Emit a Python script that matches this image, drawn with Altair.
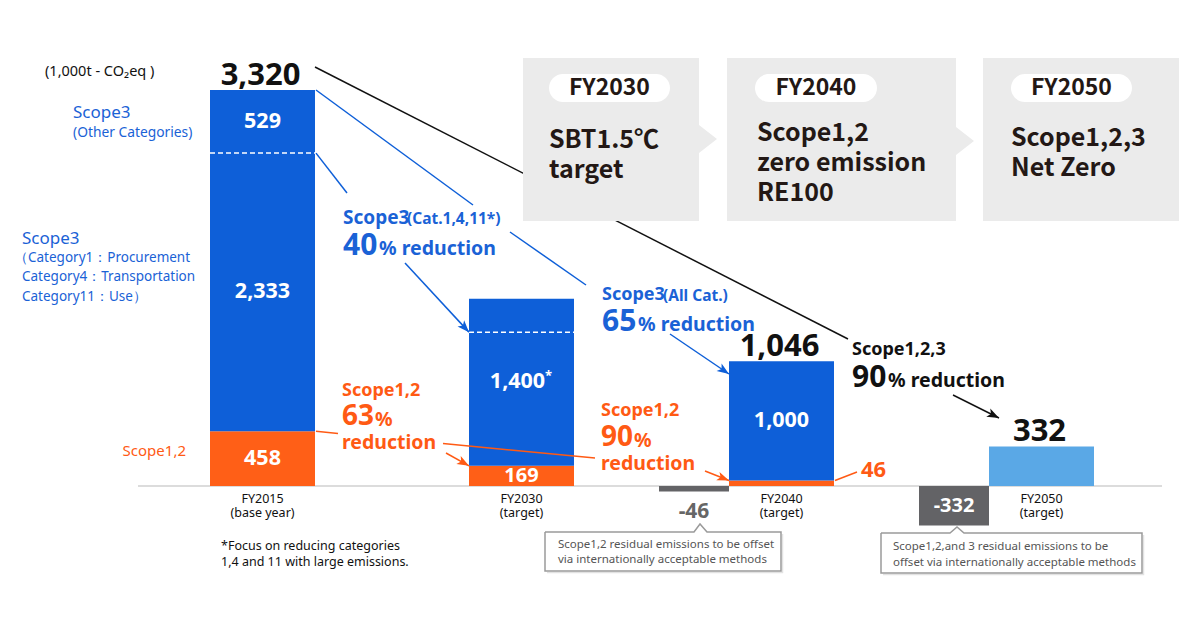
import math
import altair as alt
import pandas as pd

# ---------------- data (1,000t-CO2eq) ----------------
years = ["FY2015", "FY2030", "FY2040", "FY2050"]
year_notes = ["(base year)", "(target)", "(target)", "(target)"]
scope12 = [458, 169, 46, 0]
scope3_main = [2333, 1400, 1000, 0]      # Cat.1,4,11 (FY2040: all categories)
scope3_other = [529, 0, 0, 0]
net_emissions = [0, 0, 0, 332]
totals = [3320, None, 1046, 332]
offsets = [0, 0, -46, -332]
dividers = [2791, 1290, None, None]       # dashed separators inside the blue bars

# ---------------- layout (page pixels) ----------------
W, H = 1184, 614
BASE_PY = 486
TOP_PY = 90
K = (BASE_PY - TOP_PY) / totals[0]        # pixels per unit
centers = [262.5, 521.5, 781.5, 1041.5]
BW = 105
OW = 70

BLUE = "#0e5fd8"
ORANGE = "#ff5f17"
LIGHT = "#5aa8e6"
DARK = "#636366"
BLUE_T = "#1a62d6"
ORANGE_T = "#ff5a14"
BLACK = "#111111"
BOXTXT = "#231815"
GRAY_T = "#555555"
FONT = "Noto Sans"
JFONT = "Noto Sans CJK JP"


def yv(py):
    return (BASE_PY - py) / K


def py_of(v):
    return BASE_PY - v * K


xs = alt.Scale(domain=[8, 8 + W], nice=False, zero=False)
ys = alt.Scale(domain=[yv(8 + H), yv(8)], nice=False, zero=False)


def X(f):
    return alt.X(f, type="quantitative", scale=xs, axis=None)


def Y(f):
    return alt.Y(f, type="quantitative", scale=ys, axis=None)


layers = []

# baseline
base_df = pd.DataFrame([dict(x=138, x2=1162, y=0)])
layers.append(alt.Chart(base_df).mark_rule(color="#dcdcdc", strokeWidth=2).encode(
    x=X("x"), x2="x2:Q", y=Y("y")))

# bars
bar_rows, seg_labels = [], []
for i, yr in enumerate(years):
    c = centers[i]
    x0, x1 = c - BW / 2, c + BW / 2
    stack = 0
    for val, col in [(scope12[i], ORANGE), (scope3_main[i], BLUE),
                     (scope3_other[i], BLUE), (net_emissions[i], LIGHT)]:
        if val:
            bar_rows.append(dict(x=x0, x2=x1, y=stack, y2=stack + val, color=col))
            if val * K > 18 and col != LIGHT:
                seg_labels.append(dict(x=c, y=stack + val / 2, text=f"{val:,}",
                                       size=21.5 if val * K > 24 else 20, color="#ffffff"))
            stack += val
    if offsets[i]:
        bar_rows.append(dict(x=x0 - OW, x2=x0, y=offsets[i], y2=0, color=DARK))
bar_df = pd.DataFrame(bar_rows)
layers.append(alt.Chart(bar_df).mark_rect().encode(
    x=X("x"), x2="x2:Q", y=Y("y"), y2="y2:Q",
    color=alt.Color("color:N", scale=None)))

# dashed dividers
div_rows = [dict(x=centers[i] - BW / 2, x2=centers[i] + BW / 2, y=d)
            for i, d in enumerate(dividers) if d]
layers.append(alt.Chart(pd.DataFrame(div_rows)).mark_rule(
    color="white", strokeWidth=1.5, strokeDash=[5, 3]).encode(
    x=X("x"), x2="x2:Q", y=Y("y")))

# long black connector (passes behind the target boxes)
black_df = pd.DataFrame([dict(o=0, x=315, y=yv(67)), dict(o=1, x=848, y=yv(339))])
layers.append(alt.Chart(black_df).mark_line(color="#111111", strokeWidth=1.5).encode(
    x=X("x"), y=Y("y"), order="o:Q"))

# target boxes
box_df = pd.DataFrame([
    dict(x=523, x2=699, y=yv(58), y2=yv(221)),
    dict(x=727, x2=956, y=yv(58), y2=yv(221)),
    dict(x=983, x2=1179, y=yv(58), y2=yv(221)),
])
layers.append(alt.Chart(box_df).mark_rect(color="#ebebeb").encode(
    x=X("x"), x2="x2:Q", y=Y("y"), y2="y2:Q"))
chev_df = pd.DataFrame([dict(x=699 + 9, y=yv(139)), dict(x=956 + 9, y=yv(141))])
layers.append(alt.Chart(chev_df).mark_point(
    shape="M-0.643,-1L0.643,0L-0.643,1Z", filled=True, color="#ebebeb",
    opacity=1, size=784, strokeWidth=0).encode(x=X("x"), y=Y("y")))
pill_df = pd.DataFrame([
    dict(x=549, x2=670, y=yv(74), y2=yv(102)),
    dict(x=755, x2=877, y=yv(74), y2=yv(102)),
    dict(x=1011, x2=1132, y=yv(74), y2=yv(102)),
])
layers.append(alt.Chart(pill_df).mark_rect(color="white", cornerRadius=14).encode(
    x=X("x"), x2="x2:Q", y=Y("y"), y2="y2:Q"))

# connectors and arrows
line_rows, head_rows = [], []


def connector(seg, p0, p1, color, head=False):
    (x0, q0), (x1, q1) = p0, p1
    line_rows.append(dict(seg=seg, o=0, x=x0, y=yv(q0), color=color))
    line_rows.append(dict(seg=seg, o=1, x=x1, y=yv(q1), color=color))
    if head:
        dx, dy = x1 - x0, q1 - q0
        L = math.hypot(dx, dy)
        ang = math.degrees(math.atan2(dx, -dy)) % 360
        head_rows.append(dict(x=x1 - dx / L * 6, y=yv(q1 - dy / L * 6), angle=ang, color=color))


connector("a1", (316, py_of(totals[0])), (473, 205), BLUE)
connector("a2", (510, 232), (586, 285), BLUE)
connector("b", (316, py_of(dividers[0])), (347, 193), BLUE)
connector("c", (405, 263), (469, py_of(dividers[1])), BLUE, True)
connector("d", (670, 334), (729, 374), BLUE, True)
connector("k", (953, 395), (999, 418), "#111111", True)
connector("e1", (316, py_of(scope12[0])), (338, 433.5), ORANGE_T)
connector("e2", (443, 443.5), (595, 458), ORANGE_T)
connector("f", (446, 453), (469, py_of(scope12[1])), ORANGE_T, True)
connector("g", (705, 471), (729, py_of(scope12[2])), ORANGE_T, True)
connector("h", (835, py_of(scope12[2])), (857, 472), ORANGE_T)

# callout outlines (with a faint shadow)
callouts = [
    [(545, 532), (694, 532), (700, 524), (707, 532), (781, 532), (781, 571), (545, 571), (545, 532)],
    [(881, 533), (950, 533), (957, 527), (964, 533), (1142, 533), (1142, 573), (881, 573), (881, 533)],
]
for n, pts in enumerate(callouts):
    x_l, x_r = pts[0][0], pts[4][0]
    y_t, y_b = pts[0][1], pts[5][1]
    shadow = [(x_r + 1.5, y_t + 2), (x_r + 1.5, y_b + 1.5), (x_l + 2, y_b + 1.5)]
    for j, (px, py) in enumerate(shadow):
        line_rows.append(dict(seg=f"sh{n}", o=j, x=px, y=yv(py), color="#e2e2e2"))
    for j, (px, py) in enumerate(pts):
        line_rows.append(dict(seg=f"co{n}", o=j, x=px, y=yv(py), color="#9a9a9a"))

line_df = pd.DataFrame(line_rows)
layers.append(alt.Chart(line_df).mark_line(strokeWidth=1.5).encode(
    x=X("x"), y=Y("y"), order="o:Q", detail="seg:N",
    color=alt.Color("color:N", scale=None)))
head_df = pd.DataFrame(head_rows)
layers.append(alt.Chart(head_df).mark_point(
    shape="M0,-1L0.75,1L0,0.5L-0.75,1Z", filled=True, opacity=1, size=144, strokeWidth=0).encode(
    x=X("x"), y=Y("y"), angle=alt.Angle("angle:Q", scale=None),
    color=alt.Color("color:N", scale=None)))


def text_layer(rows, weight="normal", align="left", font=FONT, baseline="middle", dy=0):
    df = pd.DataFrame(rows)
    return alt.Chart(df).mark_text(align=align, baseline=baseline, font=font,
                                   fontWeight=weight, dy=dy).encode(
        x=X("x"), y=Y("y"), text="text:N",
        size=alt.Size("size:Q", scale=None),
        color=alt.Color("color:N", scale=None))


def T(text, x, py, size, color):
    return dict(x=x, y=yv(py), text=text, size=size, color=color)


# segment value labels (white, inside bars)
star_rows = []
for r in seg_labels:
    if r["text"] == f"{scope3_main[1]:,}":
        r["x"] -= 4
        star_rows.append(dict(x=r["x"] + 31, y=r["y"] + 6 / K, text="*", size=13, color="#ffffff"))
layers.append(text_layer(seg_labels + star_rows, weight="bold", align="center"))

# totals above bars
tot_rows = [dict(x=centers[i] - 2, y=t, text=f"{t:,}", size=31, color=BLACK)
            for i, t in enumerate(totals) if t]
layers.append(text_layer(tot_rows, weight="bold", align="center", baseline="alphabetic", dy=-5))

# offset labels
off_rows = []
for i, o in enumerate(offsets):
    if o:
        cx = centers[i] - BW / 2 - OW / 2
        if -o * K > 20:
            off_rows.append(dict(x=cx, y=o / 2, text=f"{o:,}", size=20, color="#ffffff"))
        else:
            off_rows.append(T(f"{o:,}", cx, 512, 21, "#666666"))
layers.append(text_layer(off_rows, weight="bold", align="center"))

# x labels
xl_rows = []
for i, yr in enumerate(years):
    xl_rows.append(T(yr, centers[i], 499, 12.5, BLACK))
    xl_rows.append(T(year_notes[i], centers[i], 513, 12.5, BLACK))
layers.append(text_layer(xl_rows, align="center"))

# regular left-aligned texts
reg_rows = [
    T("(1,000t - CO₂eq )", 45, 72, 14.5, BLACK),
    T("Scope3", 73, 113, 17, BLUE_T),
    T("(Other Categories)", 73, 133, 13.8, BLUE_T),
    T("Scope3", 22, 239, 17, BLUE_T),
    T("（Category1：Procurement", 14, 258, 13.5, BLUE_T),
    T("Category4：Transportation", 22, 277, 13.5, BLUE_T),
    T("Category11：Use）", 22, 297, 13.5, BLUE_T),
    T("*Focus on reducing categories", 221, 546, 12.5, BLACK),
    T("1,4 and 11 with large emissions.", 221, 562, 12.5, BLACK),
    T("Scope1,2 residual emissions to be offset", 558, 545, 11.5, GRAY_T),
    T("via internationally acceptable methods", 558, 560, 11.5, GRAY_T),
    T("Scope1,2,and 3 residual emissions to be", 893, 547, 11.5, GRAY_T),
    T("offset via internationally acceptable methods", 893, 563, 11.5, GRAY_T),
]
layers.append(text_layer(reg_rows))
layers.append(text_layer([T("Scope1,2", 186, 451, 15, ORANGE_T)], align="right"))

# bold annotations
ann_rows = [
    T("Scope3", 343, 218, 19, BLUE_T), T("(Cat.1,4,11*)", 407, 219, 15.5, BLUE_T),
    T("40", 343, 246, 30, BLUE_T), T("% reduction", 379, 249, 19.5, BLUE_T),
    T("Scope3", 602, 295, 18, BLUE_T), T("(All Cat.)", 663, 296, 15.5, BLUE_T),
    T("65", 602, 322, 30, BLUE_T), T("% reduction", 638, 325, 19.5, BLUE_T),
    T("Scope1,2,3", 852, 350, 18, BLACK),
    T("90", 852, 378, 30, BLACK), T("% reduction", 888, 381, 19.5, BLACK),
    T("Scope1,2", 342, 391, 18, ORANGE_T),
    T("63", 342, 417, 28, ORANGE_T), T("%", 375, 420, 19.5, ORANGE_T),
    T("reduction", 342, 443, 19.5, ORANGE_T),
    T("Scope1,2", 601, 411, 18, ORANGE_T),
    T("90", 601, 438, 28, ORANGE_T), T("%", 634, 441, 19.5, ORANGE_T),
    T("reduction", 601, 464, 19.5, ORANGE_T),
    T(f"{scope12[2]}", 861, 470, 22, ORANGE_T),
]
layers.append(text_layer(ann_rows, weight="bold"))

# target box texts
pill_rows = [T("FY2030", 609.5, 88, 23, BOXTXT), T("FY2040", 816, 88, 23, BOXTXT),
             T("FY2050", 1071.5, 88, 23, BOXTXT)]
layers.append(text_layer(pill_rows, weight="bold", align="center", font=JFONT))
box_rows = [
    T("SBT1.5℃", 549, 140, 25, BOXTXT), T("target", 549, 170, 25, BOXTXT),
    T("Scope1,2", 757, 133, 25, BOXTXT), T("zero emission", 757, 163, 25, BOXTXT),
    T("RE100", 757, 193, 25, BOXTXT),
    T("Scope1,2,3", 1011, 138, 25, BOXTXT), T("Net Zero", 1011, 168, 25, BOXTXT),
]
layers.append(text_layer(box_rows, weight="bold", font=JFONT))

chart = alt.layer(*layers).properties(
    width=W, height=H, padding=0, autosize="none", background="white"
).configure_view(stroke=None)

chart.save("out.html", embed_options={"renderer": "svg", "actions": False})
